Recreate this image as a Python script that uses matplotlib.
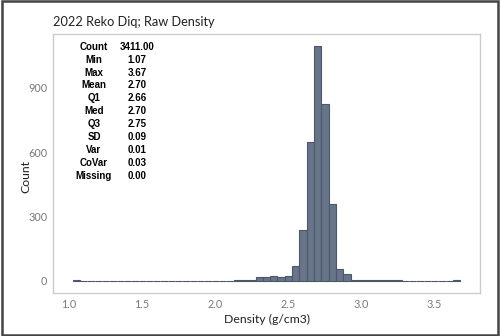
import matplotlib
matplotlib.use("Agg")
import matplotlib.pyplot as plt
from matplotlib.patches import Rectangle

# histogram bins (centre of each 0.05 wide bin) and counts
bin_centers = [1.05, 1.10, 1.15, 1.20, 1.25, 1.30, 1.35, 1.40, 1.45, 1.50,
               1.55, 1.60, 1.65, 1.70, 1.75, 1.80, 1.85, 1.90, 1.95, 2.00,
               2.05, 2.10, 2.15, 2.20, 2.25, 2.30, 2.35, 2.40, 2.45, 2.50,
               2.55, 2.60, 2.65, 2.70, 2.75, 2.80, 2.85, 2.90, 2.95, 3.00,
               3.05, 3.10, 3.15, 3.20, 3.25, 3.30, 3.35, 3.40, 3.45, 3.50,
               3.55, 3.60, 3.65]
counts = [5, 0, 0, 0, 0, 0, 0, 0, 0, 0,
          0, 0, 0, 0, 0, 0, 0, 0, 0, 0,
          0, 0, 3, 3, 3, 17, 17, 25, 17, 25,
          68, 238, 645, 1092, 822, 358, 58, 32, 3, 3,
          3, 3, 3, 3, 3, 0, 0, 0, 0, 0,
          0, 0, 5]
bin_width = 0.05

xticks = [1.0, 1.5, 2.0, 2.5, 3.0, 3.5]
yticks = [0, 300, 600, 900]

stat_names = ["Count", "Min", "Max", "Mean", "Q1", "Med", "Q3", "SD", "Var", "CoVar", "Missing"]
stat_values = ["3411.00", "1.07", "3.67", "2.70", "2.66", "2.70", "2.75", "0.09", "0.01", "0.03", "0.00"]

fig = plt.figure(figsize=(5, 3.36), dpi=100)
ax = fig.add_axes([0.106, 0.128, 0.854, 0.771])

ax.bar(bin_centers, counts, width=bin_width, color="#687589",
       edgecolor="#4b586b", linewidth=0.8, align="center")

ax.set_xlim(0.89, 3.81)
ax.set_ylim(-56, 1150)
ax.set_xticks(xticks)
ax.set_xticklabels([f"{t:.1f}" for t in xticks])
ax.set_yticks(yticks)
ax.tick_params(length=0, labelsize=7.8, labelcolor="#7a7a7a", pad=4)
for lbl in ax.get_xticklabels() + ax.get_yticklabels():
    lbl.set_family("Lato")
for s in ax.spines.values():
    s.set_color("#cccccc")
    s.set_linewidth(1.0)

ax.set_xlabel("Density (g/cm3)", family="Lato", fontsize=8.8, color="#222222", labelpad=3)
ax.set_ylabel("Count", family="Lato", fontsize=8.8, color="#222222")
ax.yaxis.set_label_coords(-0.05, 0.45)
fig.text(0.106, 0.935, "2022 Reko Diq; Raw Density", family="Lato", fontsize=9.2,
         color="#222222", ha="left", va="center")

# summary statistics block
y0 = 1 - 46.7 / 336
dy = 12.9 / 336
for i, (name, val) in enumerate(zip(stat_names, stat_values)):
    y = y0 - i * dy
    fig.text(94 / 500, y, name, family="Liberation Sans", weight="bold",
             fontsize=7, ha="center", va="center", color="black")
    fig.text(137 / 500, y, val, family="Liberation Sans", weight="bold",
             fontsize=7, ha="center", va="center", color="black")

# outer frame
fig.patches.append(Rectangle((0.004, 0.004), 0.992, 0.992, transform=fig.transFigure,
                             fill=False, edgecolor="#444444", linewidth=1.8))

fig.savefig("out.png", dpi=100)
